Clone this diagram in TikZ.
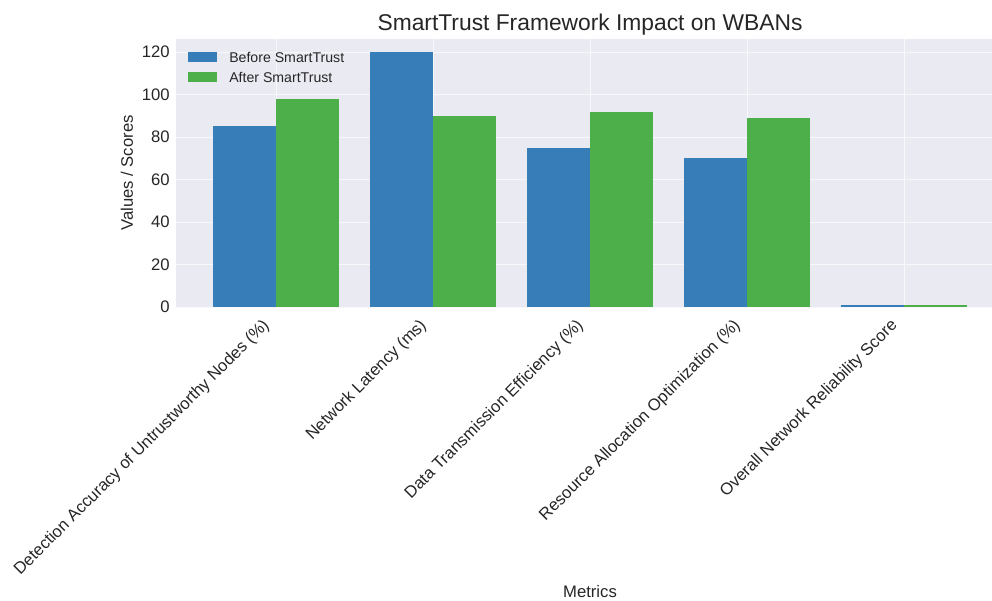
\documentclass[tikz,border=0pt]{standalone}
\usepackage{fontspec}
\setmainfont{Liberation Sans}
\definecolor{panel}{HTML}{EAEAF2}
\definecolor{before}{HTML}{377EB8}
\definecolor{after}{HTML}{4DAF4A}
\definecolor{ink}{HTML}{262626}
\begin{document}
\begin{tikzpicture}[x=0.75pt,y=-0.75pt,
  grid line/.style={draw=white!65!panel,line width=0.6pt},
  bar before/.style={fill=before,draw=none},
  bar after/.style={fill=after,draw=none},
  tick label/.style={text=ink,font=\fontsize{12.5}{14}\selectfont,inner sep=0pt},
  cat label/.style={text=ink,font=\fontsize{12.5}{14}\selectfont,inner sep=1pt,rotate=45,anchor=east},
  legend label/.style={text=ink,font=\fontsize{10.6}{12}\selectfont,inner sep=0pt,anchor=west}]
\useasboundingbox (0,0) rectangle (992,600);
% plot panel (0 at y=307, 2.125 px per unit)
\fill[panel] (176,39) rectangle (992,307);
\foreach \v in {0,20,...,120}
  \draw[grid line] (176,{307-2.125*\v}) -- (992,{307-2.125*\v});
\foreach \cx in {276,433,590,747,904}
  \draw[grid line] (\cx,39) -- (\cx,307);
% bars: before | after around each category centre
\foreach \cx/\b/\a [count=\i] in {276/85/98,433/120/90,590/75/92,747/70/89,904/0.8/0.9}{
  \fill[bar before] ({\cx-62.8},307) rectangle (\cx,{307-2.125*\b});
  \fill[bar after] (\cx,307) rectangle ({\cx+62.8},{307-2.125*\a});
}
% y ticks
\foreach \v in {0,20,...,120}
  \node[tick label,anchor=east] (yt\v) at (170,{307-2.125*\v}) {\v};
% category labels
\node[cat label] (c1) at (268,322) {Detection Accuracy of Untrustworthy Nodes (\%)};
\node[cat label] (c2) at (425,322) {Network Latency (ms)};
\node[cat label] (c3) at (582,322) {Data Transmission Efficiency (\%)};
\node[cat label] (c4) at (739,322) {Resource Allocation Optimization (\%)};
\node[cat label] (c5) at (896,322) {Overall Network Reliability Score};
% axis titles and heading
\node[text=ink,font=\fontsize{12.5}{14}\selectfont,rotate=90,inner sep=0pt] (ylab) at (127,173) {Values / Scores};
\node[text=ink,font=\fontsize{12.5}{14}\selectfont,anchor=base,inner sep=0pt] (xlab) at (590,597) {Metrics};
\node[text=ink,font=\fontsize{17.1}{20}\selectfont,anchor=base,inner sep=0pt] (title) at (590,30) {SmartTrust Framework Impact on WBANs};
% legend
\fill[before] (188,52) rectangle (217,62);
\fill[after] (188,72) rectangle (217,82);
\node[legend label] (lb) at (229,57.5) {Before SmartTrust};
\node[legend label] (la) at (229,77.5) {After SmartTrust};
\end{tikzpicture}
\end{document}
